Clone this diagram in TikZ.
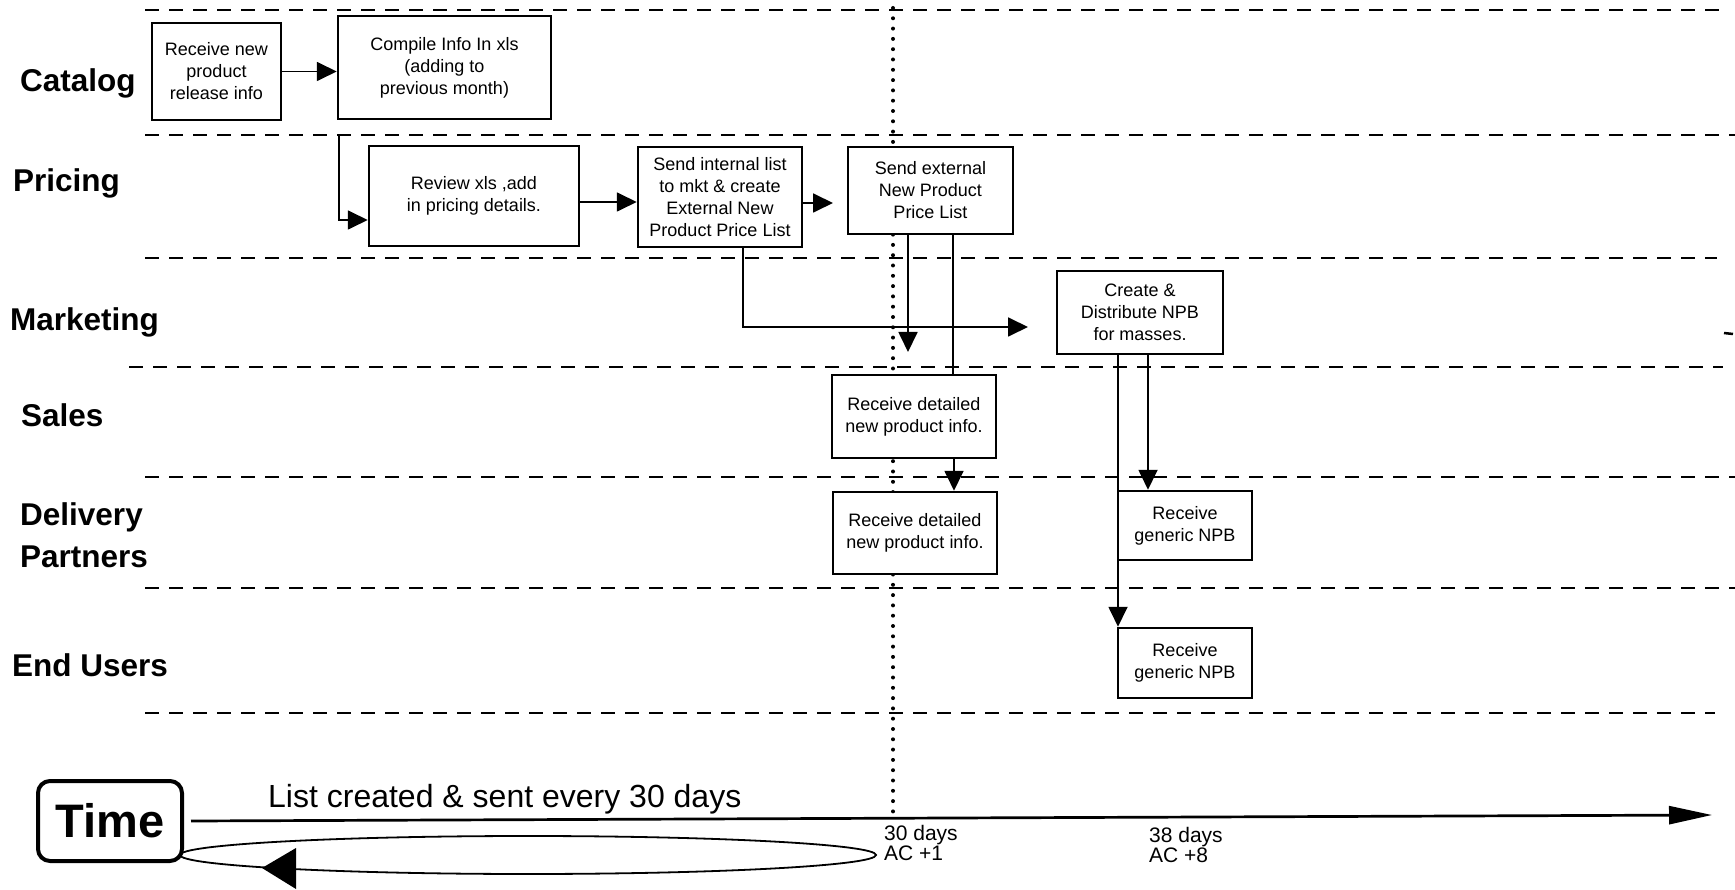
\documentclass[tikz,border=0pt]{standalone}
\usepackage{fontspec}
\setmainfont{Liberation Sans}
\usetikzlibrary{arrows.meta}
\tikzset{
  lane/.style={line width=2.5pt, dash pattern=on 14pt off 10pt},
  box/.style={draw, fill=white, line width=2.5pt, inner sep=0pt, align=center, font=\fontsize{18}{22}\selectfont},
  lbl/.style={anchor=base west, inner sep=0pt, font=\fontsize{31.5}{36}\selectfont\bfseries},
  conn/.style={line width=1.8pt},
  arr/.style={conn, -{Triangle[length=20pt,width=19pt]}},
  small/.style={anchor=north west, inner sep=0pt, align=left, font=\fontsize{21}{19}\selectfont},
}
\begin{document}
\begin{tikzpicture}[x=1pt,y=-1pt]
\useasboundingbox (0,0) rectangle (1735,890);
% swim lanes
\draw[lane] (145,10) -- (1722,10);
\draw[lane] (145,135) -- (1735,135);
\draw[lane] (145,258) -- (1717,258);
\draw[lane] (129,367) -- (1723,367);
\draw[lane] (145,477) -- (1735,477);
\draw[lane] (145,588) -- (1735,588);
\draw[lane] (145,713) -- (1715,713);
\draw[line width=2.5pt] (1724,333) -- (1733,334);
% lane labels
\node[lbl] (lcat) at (20,92) {Catalog};
\node[lbl] (lpri) at (13,191.5) {Pricing};
\node[lbl] (lmkt) at (10,331) {Marketing};
\node[lbl] (lsal) at (21,427) {Sales};
\node[lbl, anchor=north west, align=left, font=\fontsize{31.5}{42}\selectfont\bfseries] (ldel) at (20,502) {Delivery\\Partners};
\node[lbl] (lend) at (12,676) {End Users};
% dotted milestone line
\draw[line width=4pt, line cap=round, dash pattern=on 0pt off 10.3pt] (893,8) -- (893,820);
% boxes
\node[box, minimum width=129pt, minimum height=97pt] (box1) at (216.5,71.5) {Receive new\\product\\release info};
\node[box, minimum width=213pt, minimum height=103pt] (compile) at (444.5,67.5) {Compile Info In xls\\(adding to\\previous month)};
\node[box, minimum width=210pt, minimum height=100pt] (review) at (474,196) {Review xls ,add\\in pricing details.};
\node[box, minimum width=164pt, minimum height=100pt] (sendint) at (720,197) {Send internal list\\to mkt \& create\\External New\\Product Price List};
\node[box, minimum width=165pt, minimum height=87pt] (sendext) at (930.5,190.5) {Send external\\New Product\\Price List};
\node[box, minimum width=166pt, minimum height=83pt] (create) at (1140,312.5) {Create \&\\Distribute NPB\\for masses.};
\node[box, minimum width=164pt, minimum height=83pt] (sales) at (914,416.5) {Receive detailed\\new product info.};
\node[box, minimum width=164pt, minimum height=82pt] (deldet) at (915,533) {Receive detailed\\new product info.};
\node[box, minimum width=134pt, minimum height=69pt] (delgen) at (1185,525.5) {Receive\\generic NPB};
\node[box, minimum width=134pt, minimum height=70pt] (endgen) at (1185,663) {Receive\\generic NPB};
% connectors
\draw[arr] (box1.east) -- (box1.east -| compile.west);
\coordinate (c1) at (339,135);
\draw[arr] (c1) |- ([yshift=-24pt]review.west);
\draw[arr] ([yshift=-6pt]review.east) -- ([yshift=-6pt]review.east -| sendint.west);
\coordinate (g1) at (833,203);
\draw[arr] (sendint.east |- g1) -- (g1);
\coordinate (g2) at (1028,327);
\draw[arr] ([xshift=23pt]sendint.south) |- (g2);
\coordinate (g3) at (908,352);
\draw[arr] (sendext.south -| g3) -- (g3);
\draw[conn] ([xshift=22.5pt]sendext.south) -- ([xshift=22.5pt]sendext.south |- sales.north);
\draw[arr] ([xshift=40pt]sales.south) -- ([xshift=40pt]sales.south |- deldet.north);
\draw[arr] ([xshift=-22pt]create.south) -- ([xshift=-22pt]create.south |- endgen.north);
\draw[arr] ([xshift=8pt]create.south) -- ([xshift=8pt]create.south |- delgen.north);
% time axis
\node[draw, line width=4pt, rounded corners=12pt, minimum width=144pt, minimum height=80pt, inner sep=0pt, font=\fontsize{47}{50}\selectfont\bfseries] (time) at (110,821) {Time};
\coordinate (tl) at (1712,815);
\draw[line width=2.7pt, -{Triangle[length=43pt,width=18pt]}] ([xshift=7pt]time.east) -- (tl);
\node[anchor=base west, inner sep=0pt, font=\fontsize{32}{36}\selectfont] (every) at (268,807) {List created \& sent every 30 days};
\draw[conn] (528,855) ellipse [x radius=348pt, y radius=19pt];
\fill (262,868) -- (296,848) -- (296,889) -- cycle;
\node[small] (d30) at (884,825) {30 days\\AC +1};
\node[small] (d38) at (1149,827) {38 days\\AC +8};
\end{tikzpicture}
\end{document}
